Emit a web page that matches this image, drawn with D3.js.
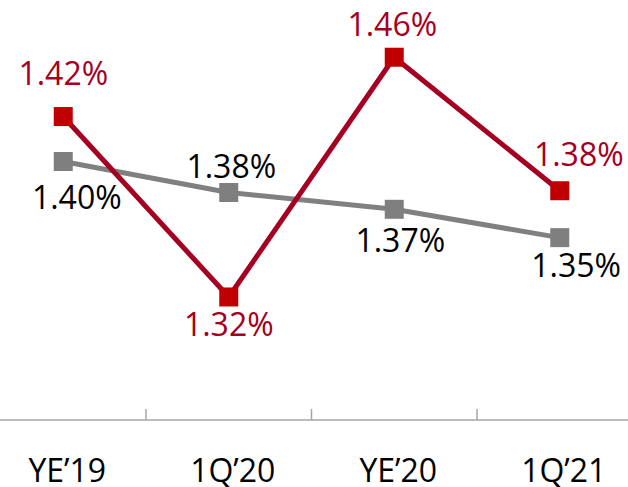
<!DOCTYPE html>
<html>
<head>
<meta charset="utf-8">
<script src="https://cdn.jsdelivr.net/npm/d3@7"></script>
<style>
  body { margin: 0; background: #fff; }
  svg { display: block; font-family: "Open Sans", sans-serif; }
</style>
</head>
<body>
<svg id="chart" width="628" height="487"></svg>
<script>
// categories and series (values in %)
var categories = ["YE\u201919", "1Q\u201920", "YE\u201920", "1Q\u201921"];
var redValues = [1.4234, 1.3203, 1.4573, 1.3810];
var grayValues = [1.3977, 1.3800, 1.3704, 1.3542];

var svg = d3.select("#chart"),
    width = +svg.attr("width"),
    axisY = 420;

var x = d3.scaleBand()
    .domain(categories)
    .range([-19.5, 642.5])
    .padding(0);

var y = d3.scaleLinear()
    .domain([1.25, 1.49])
    .range([axisY, 0]);

var cx = function(d, i) { return x(categories[i]) + x.bandwidth() / 2; };
var fmt = function(v) { return d3.format(".2f")(v) + "%"; };

// label placement relative to each point (dx, dy to baseline)
var redLabelPos = [[0, -31.5], [0, 38.7], [-2, -21.3], [19, -25]];
var grayLabelPos = [[13.5, 47.8], [2.5, -14.2], [6, 43], [16.4, 39]];

// x axis
var axis = svg.append("g")
    .attr("transform", "translate(0," + axisY + ")");

axis.append("line")
    .attr("x1", 0)
    .attr("x2", width)
    .attr("stroke", "#a6a6a6")
    .attr("stroke-width", 1.5);

axis.selectAll(".tick")
    .data(categories.slice(1))
    .enter().append("line")
      .attr("class", "tick")
      .attr("x1", function(d) { return x(d); })
      .attr("x2", function(d) { return x(d); })
      .attr("y1", -11)
      .attr("y2", 0)
      .attr("stroke", "#a6a6a6")
      .attr("stroke-width", 1.5);

axis.selectAll(".cat")
    .data(categories)
    .enter().append("text")
      .attr("class", "cat")
      .attr("x", function(d) { return x(d) + x.bandwidth() / 2 + 4; })
      .attr("y", 62)
      .attr("text-anchor", "middle")
      .attr("font-size", 32)
      .attr("fill", "#000")
      .text(function(d) { return d; });

function drawSeries(values, lineColor, markerColor, labelColor, labelPos) {
  var line = d3.line()
      .x(function(d, i) { return cx(d, i); })
      .y(function(d) { return y(d); });

  var g = svg.append("g");

  g.append("path")
      .datum(values)
      .attr("fill", "none")
      .attr("stroke", lineColor)
      .attr("stroke-width", 5)
      .attr("stroke-linejoin", "round")
      .attr("d", line);

  g.selectAll("rect")
      .data(values)
      .enter().append("rect")
        .attr("x", function(d, i) { return cx(d, i) - 9.5; })
        .attr("y", function(d) { return y(d) - 9.5; })
        .attr("width", 19)
        .attr("height", 19)
        .attr("fill", markerColor);

  g.selectAll("text")
      .data(values)
      .enter().append("text")
        .attr("x", function(d, i) { return cx(d, i) + labelPos[i][0]; })
        .attr("y", function(d, i) { return y(d) + labelPos[i][1]; })
        .attr("text-anchor", "middle")
        .attr("font-size", 32)
        .attr("fill", labelColor)
        .text(fmt);
}

drawSeries(grayValues, "#808080", "#7f7f7f", "#000", grayLabelPos);
drawSeries(redValues, "#a50021", "#c00000", "#a50021", redLabelPos);
</script>
</body>
</html>
